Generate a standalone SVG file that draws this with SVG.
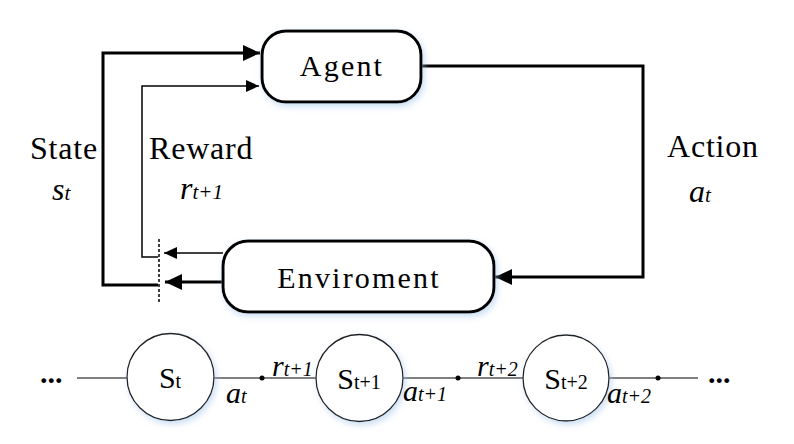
<svg xmlns="http://www.w3.org/2000/svg" width="794" height="444" viewBox="0 0 794 444">
<style>
  text { font-family: "Liberation Serif", "Times New Roman", serif; fill: #000; }
  .box { fill: #fff; stroke: #000; stroke-width: 3; }
  .big { font-size: 30px; letter-spacing: 2.2px; }
  .lbl { font-size: 32px; letter-spacing: 0.8px; }
  .it { font-style: italic; font-size: 32px; }
  .sub { font-size: 21px; }
  .thick { fill: none; stroke: #000; stroke-width: 3; }
  .thin { fill: none; stroke: #000; stroke-width: 1.5; }
  .chain { fill: none; stroke: #555; stroke-width: 1.5; }
  .circ { fill: #fff; stroke: #222; stroke-width: 1.3; }
  .sn { font-size: 30px; }
  .snsub { font-size: 20px; }
  .ci { font-style: italic; font-size: 30px; }
  .cisub { font-size: 20px; }
</style>
<defs>
  <filter id="glow" x="-20%" y="-20%" width="140%" height="150%">
    <feDropShadow dx="2" dy="3" stdDeviation="3" flood-color="#9fc3ea" flood-opacity="0.55"/>
  </filter>
  <marker id="ahBig" markerWidth="18" markerHeight="16" refX="17" refY="8" orient="auto" markerUnits="userSpaceOnUse">
    <path d="M0,0 L17,8 L0,16 Z" fill="#000"/>
  </marker>
  <marker id="ahSmall" markerWidth="14" markerHeight="12" refX="13" refY="6" orient="auto" markerUnits="userSpaceOnUse">
    <path d="M0,0 L13,6 L0,12 Z" fill="#000"/>
  </marker>
</defs>

<g id="connectors">
  <!-- State loop -->
  <polyline class="thick" points="223,282 165,282" marker-end="url(#ahBig)"/>
  <polyline class="thick" points="158,285 103,285 103,53 260,53" marker-end="url(#ahBig)"/>
  <!-- Reward loop -->
  <polyline class="thin" points="223,253 164,253" marker-end="url(#ahSmall)"/>
  <polyline class="thin" points="158,257 142,257 142,86 259,86" marker-end="url(#ahSmall)"/>
  <!-- Action -->
  <polyline class="thick" points="421,66 643,66 643,277 495,277" marker-end="url(#ahBig)"/>
  <!-- dashed separator -->
  <line x1="159" y1="239" x2="159" y2="302" stroke="#000" stroke-width="1.5" stroke-dasharray="3,2"/>
  <!-- chain lines -->
  <line class="chain" x1="77" y1="378" x2="127" y2="378"/>
  <line class="chain" x1="214" y1="378" x2="316" y2="378"/>
  <line class="chain" x1="403" y1="378" x2="523" y2="378"/>
  <line class="chain" x1="609" y1="378" x2="698" y2="378"/>
  <circle cx="262" cy="378" r="2.5" fill="#000"/>
  <circle cx="458" cy="378" r="2.5" fill="#000"/>
  <circle cx="658" cy="378" r="2.5" fill="#000"/>
</g>

<g id="agent">
  <rect class="box" x="262" y="31" width="159" height="71" rx="24" filter="url(#glow)"/>
  <text class="big" x="342" y="76" text-anchor="middle">Agent</text>
</g>

<g id="environment">
  <rect class="box" x="223" y="241" width="271" height="71" rx="25" filter="url(#glow)"/>
  <text class="big" x="359" y="288" text-anchor="middle">Enviroment</text>
</g>

<g id="labels">
  <text class="lbl" x="30" y="159">State</text>
  <text class="it" x="52" y="200">s<tspan class="sub">t</tspan></text>
  <text class="lbl" x="149" y="159">Reward</text>
  <text class="it" x="180" y="199">r<tspan class="sub">t+1</tspan></text>
  <text class="lbl" x="667" y="157">Action</text>
  <text class="it" x="689" y="202">a<tspan class="sub">t</tspan></text>
</g>

<g id="chain-left-dots">
  <text x="40" y="383" style="font-size:30px;font-weight:bold">...</text>
</g>

<g id="node-st">
  <circle class="circ" cx="170.5" cy="377" r="43.5" filter="url(#glow)"/>
  <text class="sn" x="170" y="388" text-anchor="middle">S<tspan class="snsub">t</tspan></text>
</g>

<g id="node-st1">
  <circle class="circ" cx="359.5" cy="378" r="43.5" filter="url(#glow)"/>
  <text class="sn" x="359" y="389" text-anchor="middle">S<tspan class="snsub">t+1</tspan></text>
</g>

<g id="node-st2">
  <circle class="circ" cx="566" cy="378" r="43" filter="url(#glow)"/>
  <text class="sn" x="566" y="389" text-anchor="middle">S<tspan class="snsub">t+2</tspan></text>
</g>

<g id="chain-labels">
  <text class="ci" x="226" y="403">a<tspan class="cisub">t</tspan></text>
  <text class="ci" x="272" y="376">r<tspan class="cisub">t+1</tspan></text>
  <text class="ci" x="403" y="401">a<tspan class="cisub">t+1</tspan></text>
  <text class="ci" x="477" y="376">r<tspan class="cisub">t+2</tspan></text>
  <text class="ci" x="607" y="403">a<tspan class="cisub">t+2</tspan></text>
</g>

<g id="chain-right-dots">
  <text x="708" y="383" style="font-size:30px;font-weight:bold">...</text>
</g>
</svg>
